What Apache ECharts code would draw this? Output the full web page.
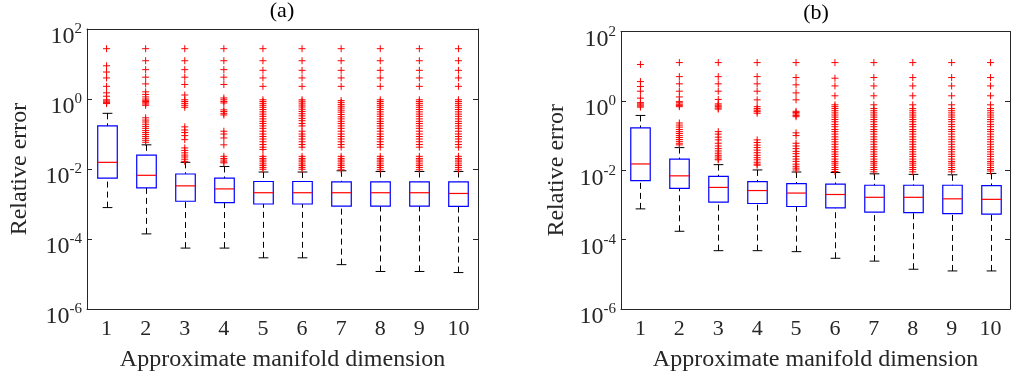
<!DOCTYPE html>
<html>
<head>
<meta charset="utf-8">
<script src="https://cdn.jsdelivr.net/npm/echarts@6/dist/echarts.min.js"></script>
<style>
  html, body { margin: 0; padding: 0; background: #fff; }
  #chart { width: 1011px; height: 378px; }
</style>
</head>
<body>
<div id="chart"></div>
<script>
// manifold dimensions on the x axis
const dims = ['1', '2', '3', '4', '5', '6', '7', '8', '9', '10'];

// panel (a): whisker low, Q1, median, Q3, whisker high
const aLo = [7.9e-4, 1.4e-4, 5.5e-5, 5.5e-5, 2.9e-5, 2.9e-5, 1.85e-5, 1.18e-5, 1.18e-5, 1.1e-5];
const aQ1 = [0.0055, 0.0029, 0.0012, 0.0011, 0.0010, 0.0010, 8.7e-4, 8.7e-4, 8.7e-4, 8.6e-4];
const aMed = [0.0155, 0.0066, 0.0033, 0.0027, 0.0021, 0.0021, 0.0021, 0.0021, 0.0021, 0.0020];
const aQ3 = [0.17, 0.025, 0.0072, 0.0055, 0.0044, 0.0044, 0.0043, 0.0043, 0.0043, 0.0043];
const aHi = [0.39, 0.049, 0.0155, 0.0118, 0.0082, 0.0082, 0.0089, 0.0085, 0.0085, 0.0085];
const aOut = [
  [27.4, 8.9, 5.9, 4.0, 2.3, 1.5, 1.2, 0.95, 0.88, 0.82, 0.78, 0.74],
  [27.4, 12.4, 6.9, 4.2, 2.7, 1.6, 1.35, 1.15, 1.0, 0.92, 0.85, 0.78, 0.72, 0.66,
   0.29, 0.25, 0.22, 0.19, 0.165, 0.145, 0.125, 0.11, 0.097, 0.085, 0.075, 0.066, 0.058],
  [27.4, 12.4, 6.9, 4.2, 2.6, 1.3, 0.95, 0.85, 0.75, 0.66, 0.58, 0.16, 0.13, 0.11, 0.09, 0.069,
   0.04, 0.034, 0.029, 0.025, 0.022, 0.019, 0.0165],
  [27.4, 12.4, 6.9, 4.2, 2.6, 1.07, 0.95, 0.85, 0.77, 0.49, 0.44, 0.39, 0.35, 0.12, 0.1, 0.077,
   0.049, 0.023, 0.02, 0.018, 0.016, 0.015],
  [27.4, 12.4, 6.6, 4.0, 2.3, 0.95, 0.85, 0.75, 0.66, 0.58, 0.5, 0.43, 0.37, 0.32, 0.27, 0.23, 0.2,
   0.17, 0.145, 0.12, 0.1, 0.085, 0.072, 0.06, 0.05, 0.042, 0.036, 0.023, 0.02, 0.018, 0.016, 0.014, 0.0125, 0.011, 0.0098],
  [27.4, 12.4, 6.6, 4.0, 2.3, 0.95, 0.86, 0.76, 0.67, 0.59, 0.51, 0.44, 0.38, 0.33, 0.28, 0.24, 0.2,
   0.17, 0.12, 0.1, 0.086, 0.072, 0.06, 0.05, 0.042, 0.023, 0.02, 0.018, 0.016, 0.014, 0.0125, 0.011, 0.0098],
  [27.4, 12.4, 6.6, 4.0, 2.3, 0.9, 0.8, 0.7, 0.62, 0.55, 0.48, 0.42, 0.36, 0.31, 0.27, 0.23, 0.2,
   0.17, 0.145, 0.12, 0.1, 0.085, 0.072, 0.06, 0.05, 0.042, 0.023, 0.02, 0.018, 0.016, 0.014, 0.0125, 0.011, 0.0095],
  [27.4, 12.4, 6.6, 4.0, 2.3, 0.95, 0.85, 0.75, 0.66, 0.58, 0.5, 0.43, 0.37, 0.32, 0.27, 0.23, 0.2,
   0.17, 0.145, 0.12, 0.1, 0.085, 0.072, 0.06, 0.05, 0.042, 0.023, 0.02, 0.018, 0.016, 0.014, 0.0125, 0.011, 0.0095],
  [27.4, 12.4, 6.6, 4.0, 2.3, 0.95, 0.85, 0.75, 0.66, 0.58, 0.5, 0.43, 0.37, 0.32, 0.27, 0.23, 0.2,
   0.17, 0.145, 0.12, 0.1, 0.085, 0.072, 0.06, 0.05, 0.042, 0.023, 0.02, 0.018, 0.016, 0.014, 0.0125, 0.011, 0.0095],
  [27.4, 12.4, 6.6, 4.0, 2.3, 0.95, 0.85, 0.75, 0.66, 0.58, 0.5, 0.43, 0.37, 0.32, 0.27, 0.23, 0.2,
   0.17, 0.145, 0.12, 0.1, 0.085, 0.072, 0.06, 0.05, 0.042, 0.023, 0.02, 0.018, 0.016, 0.014, 0.0125, 0.011, 0.0095]
];

// panel (b)
const bLo = [7.7e-4, 1.74e-4, 4.8e-5, 4.8e-5, 4.5e-5, 2.9e-5, 2.4e-5, 1.4e-5, 1.25e-5, 1.25e-5];
const bQ1 = [0.005, 0.003, 0.0012, 0.0011, 9e-4, 8.2e-4, 6.2e-4, 6.0e-4, 5.6e-4, 5.4e-4];
const bMed = [0.0152, 0.0069, 0.0032, 0.0026, 0.0022, 0.002, 0.00166, 0.00166, 0.0015, 0.00145];
const bQ3 = [0.166, 0.021, 0.0067, 0.0047, 0.0041, 0.004, 0.0037, 0.0037, 0.0037, 0.0036];
const bHi = [0.38, 0.045, 0.0145, 0.0102, 0.0089, 0.0086, 0.0079, 0.0076, 0.0074, 0.0081];
const bOut = [
  [11.2, 3.6, 2.6, 1.9, 1.2, 0.89, 0.82, 0.76, 0.71, 0.66],
  [12.7, 5.0, 3.1, 1.9, 1.3, 0.95, 0.88, 0.8, 0.74, 0.68, 0.23, 0.2, 0.175, 0.15, 0.13, 0.115, 0.1,
   0.088, 0.077, 0.068, 0.06, 0.054],
  [12.7, 5.0, 3.1, 1.9, 1.1, 0.82, 0.75, 0.68, 0.62, 0.58, 0.13, 0.11, 0.09, 0.075, 0.06, 0.05, 0.042,
   0.036, 0.031, 0.027, 0.024, 0.021, 0.02],
  [12.7, 5.0, 3.1, 1.9, 1.07, 0.68, 0.6, 0.54, 0.49, 0.44, 0.075, 0.063, 0.053, 0.045, 0.038, 0.032,
   0.027, 0.023, 0.02, 0.017, 0.015, 0.014],
  [12.7, 4.7, 2.9, 1.7, 1.07, 0.5, 0.46, 0.42, 0.38, 0.35, 0.12, 0.1, 0.06, 0.05, 0.042, 0.035, 0.03,
   0.025, 0.021, 0.018, 0.015, 0.013, 0.0115, 0.0102],
  [12.7, 4.5, 2.7, 1.4, 0.77, 0.68, 0.6, 0.52, 0.45, 0.39, 0.34, 0.29, 0.25, 0.21, 0.18, 0.15, 0.13,
   0.11, 0.092, 0.078, 0.066, 0.056, 0.047, 0.04, 0.034, 0.029, 0.025, 0.021, 0.018, 0.016, 0.014, 0.012, 0.0105, 0.0092],
  [12.7, 4.7, 2.7, 1.4, 0.77, 0.6, 0.52, 0.45, 0.39, 0.34, 0.29, 0.25, 0.21, 0.18, 0.15, 0.13,
   0.11, 0.092, 0.078, 0.066, 0.056, 0.047, 0.04, 0.034, 0.029, 0.025, 0.021, 0.018, 0.016, 0.014, 0.012, 0.0105, 0.009],
  [12.7, 4.7, 2.7, 1.4, 0.77, 0.6, 0.52, 0.45, 0.39, 0.34, 0.29, 0.25, 0.21, 0.18, 0.15, 0.13,
   0.11, 0.092, 0.078, 0.066, 0.056, 0.047, 0.04, 0.034, 0.029, 0.025, 0.021, 0.018, 0.016, 0.014, 0.012, 0.0105, 0.009],
  [12.7, 4.7, 2.7, 1.4, 0.77, 0.6, 0.52, 0.45, 0.39, 0.34, 0.29, 0.25, 0.21, 0.18, 0.15, 0.13,
   0.11, 0.092, 0.078, 0.066, 0.056, 0.047, 0.04, 0.034, 0.029, 0.025, 0.021, 0.018, 0.016, 0.014, 0.012, 0.0105, 0.009],
  [12.7, 4.7, 2.7, 1.4, 0.77, 0.6, 0.52, 0.45, 0.39, 0.34, 0.29, 0.25, 0.21, 0.18, 0.15, 0.13,
   0.11, 0.092, 0.078, 0.066, 0.056, 0.047, 0.04, 0.034, 0.029, 0.025, 0.021, 0.018, 0.016, 0.014, 0.012, 0.0105, 0.0095]
];

const FONT = "'Liberation Serif', 'Times New Roman', serif";
const AX = '#262626';

function boxData(lo, q1, med, q3, hi) {
  return dims.map((d, i) => [i, lo[i], q1[i], med[i], q3[i], hi[i]]);
}
function outData(out) {
  const res = [];
  out.forEach((vals, i) => vals.forEach(v => res.push([i, v])));
  return res;
}

function renderBox(params, api) {
  const x = api.value(0);
  const lo = api.coord([x, api.value(1)]);
  const q1 = api.coord([x, api.value(2)]);
  const md = api.coord([x, api.value(3)]);
  const q3 = api.coord([x, api.value(4)]);
  const hi = api.coord([x, api.value(5)]);
  const w = params.coordSys.width / dims.length * 0.5;
  const cx = Math.round(md[0]) + 0.5;
  const dash = { stroke: '#000', lineWidth: 1, lineDash: [6, 4] };
  const solid = { stroke: '#000', lineWidth: 1 };
  return {
    type: 'group',
    children: [
      { type: 'line', shape: { x1: cx, y1: hi[1], x2: cx, y2: q3[1] }, style: dash },
      { type: 'line', shape: { x1: cx, y1: lo[1], x2: cx, y2: q1[1] }, style: dash },
      { type: 'line', shape: { x1: cx - w / 4, y1: hi[1], x2: cx + w / 4, y2: hi[1] }, style: solid },
      { type: 'line', shape: { x1: cx - w / 4, y1: lo[1], x2: cx + w / 4, y2: lo[1] }, style: solid },
      { type: 'rect', shape: { x: cx - w / 2, y: q3[1], width: w, height: q1[1] - q3[1] },
        style: { fill: 'none', stroke: '#0000ff', lineWidth: 1.2 } },
      { type: 'line', shape: { x1: cx - w / 2, y1: md[1], x2: cx + w / 2, y2: md[1] },
        style: { stroke: '#ff0000', lineWidth: 1.2 } }
    ]
  };
}

function renderPlus(params, api) {
  const p = api.coord([api.value(0), api.value(1)]);
  const r = 3.5;
  const st = { stroke: '#ff0000', lineWidth: 1 };
  return {
    type: 'group',
    children: [
      { type: 'line', shape: { x1: p[0] - r, y1: p[1], x2: p[0] + r, y2: p[1] }, style: st },
      { type: 'line', shape: { x1: p[0], y1: p[1] - r, x2: p[0], y2: p[1] + r }, style: st }
    ]
  };
}

function xAxes(gi) {
  return [
    {
      type: 'category', gridIndex: gi, data: dims, position: 'bottom',
      axisLine: { lineStyle: { color: AX, width: 1 } },
      axisTick: { inside: true, length: 5, alignWithLabel: true, lineStyle: { color: AX } },
      axisLabel: { margin: 9, fontSize: 22, fontFamily: FONT, color: AX },
      name: 'Approximate manifold dimension', nameLocation: 'middle', nameGap: 39,
      nameMoveOverlap: false,
      nameTextStyle: { fontSize: 24, fontFamily: FONT, color: AX },
      splitLine: { show: false }
    },
    {
      type: 'category', gridIndex: gi, data: dims, position: 'top',
      axisLine: { lineStyle: { color: AX, width: 1 } },
      axisTick: { inside: true, length: 5, alignWithLabel: true, lineStyle: { color: AX } },
      axisLabel: { show: false },
      splitLine: { show: false }
    }
  ];
}

function yAxes(gi, gap) {
  return [
    {
      type: 'log', logBase: 10, gridIndex: gi, position: 'left', min: 1e-6, max: 1e2, interval: 2,
      axisLine: { show: true, lineStyle: { color: AX, width: 1 } },
      axisTick: { show: true, inside: true, length: 5, lineStyle: { color: AX } },
      minorTick: { show: false },
      splitLine: { show: false },
      axisLabel: {
        margin: 5,
        padding: [13, 0, 0, 0],
        formatter: v => '{s|}{b|10}{s|' + Math.round(Math.log10(v)) + '}',
        rich: {
          b: { fontSize: 24, fontFamily: FONT, color: AX, verticalAlign: 'top', padding: [3, 0, 0, 0] },
          s: { fontSize: 15, fontFamily: FONT, color: AX, verticalAlign: 'top' }
        }
      },
      name: 'Relative error', nameLocation: 'middle', nameGap: gap, nameRotate: 90,
      nameMoveOverlap: false,
      nameTextStyle: { fontSize: 24, fontFamily: FONT, color: AX }
    },
    {
      type: 'log', logBase: 10, gridIndex: gi, position: 'right', min: 1e-6, max: 1e2, interval: 2,
      axisLine: { show: true, lineStyle: { color: AX, width: 1 } },
      axisTick: { show: true, inside: true, length: 5, lineStyle: { color: AX } },
      minorTick: { show: false },
      splitLine: { show: false },
      axisLabel: { show: false }
    }
  ];
}

const chart = echarts.init(document.getElementById('chart'), null, { renderer: 'canvas' });
chart.setOption({
  animation: false,
  backgroundColor: '#fff',
  title: [
    { text: '(a)', left: 282, top: 0, textAlign: 'center', padding: 0,
      textStyle: { fontSize: 22, fontWeight: 'normal', fontFamily: FONT, color: '#000' } },
    { text: '(b)', left: 816, top: 2, textAlign: 'center', padding: 0,
      textStyle: { fontSize: 22, fontWeight: 'normal', fontFamily: FONT, color: '#000' } }
  ],
  grid: [
    { left: 87, top: 29, width: 391, height: 280 },
    { left: 621, top: 31.5, width: 389, height: 277.5 }
  ],
  xAxis: [...xAxes(0), ...xAxes(1)],
  yAxis: [...yAxes(0, 55), ...yAxes(1, 52)],
  series: [
    { type: 'custom', xAxisIndex: 0, yAxisIndex: 0, renderItem: renderBox, silent: true,
      encode: { x: 0, y: [1, 2, 3, 4, 5] }, data: boxData(aLo, aQ1, aMed, aQ3, aHi) },
    { type: 'custom', xAxisIndex: 0, yAxisIndex: 0, renderItem: renderPlus, silent: true,
      encode: { x: 0, y: 1 }, data: outData(aOut) },
    { type: 'custom', xAxisIndex: 2, yAxisIndex: 2, renderItem: renderBox, silent: true,
      encode: { x: 0, y: [1, 2, 3, 4, 5] }, data: boxData(bLo, bQ1, bMed, bQ3, bHi) },
    { type: 'custom', xAxisIndex: 2, yAxisIndex: 2, renderItem: renderPlus, silent: true,
      encode: { x: 0, y: 1 }, data: outData(bOut) }
  ]
});
window.addEventListener('resize', () => chart.resize());
</script>
</body>
</html>
